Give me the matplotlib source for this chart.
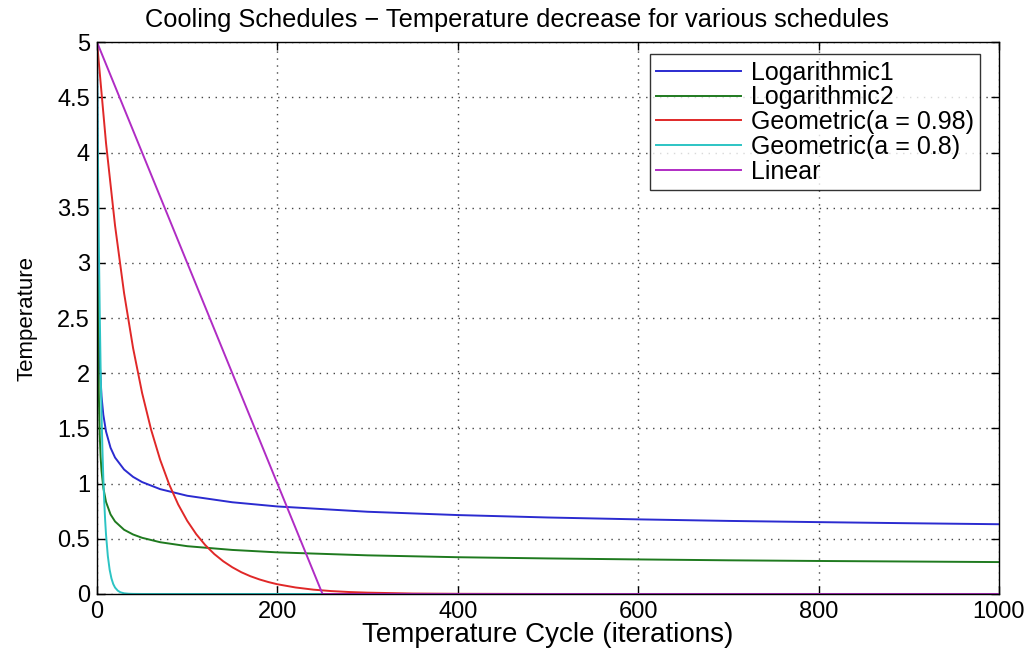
import matplotlib
matplotlib.use("Agg")
import matplotlib.pyplot as plt

# Temperature values per cooling schedule (iteration -> temperature)
log1_x = [0, 1, 2, 3, 5, 7, 10, 15, 20, 30, 40, 50, 70, 100, 150, 200, 300, 400, 500, 600, 700, 800, 900, 1000]
log1_y = [5.0, 2.953, 2.382, 2.095, 1.791, 1.624, 1.472, 1.325, 1.236, 1.128, 1.061, 1.014, 0.950, 0.890,
          0.831, 0.793, 0.745, 0.715, 0.693, 0.676, 0.662, 0.651, 0.641, 0.632]

log2_x = [1, 2, 3, 4, 5, 7, 10, 15, 20, 30, 40, 50, 70, 100, 150, 200, 300, 400, 500, 600, 700, 800, 900, 1000]
log2_y = [2.885, 1.820, 1.443, 1.243, 1.116, 0.962, 0.834, 0.721, 0.657, 0.582, 0.539, 0.509, 0.469, 0.433,
          0.399, 0.377, 0.350, 0.333, 0.322, 0.313, 0.305, 0.299, 0.294, 0.289]

geo98_x = [0, 10, 20, 30, 40, 50, 60, 70, 80, 90, 100, 110, 120, 130, 140, 150, 160, 170, 180, 190, 200,
           220, 240, 260, 280, 300, 350, 400, 500, 1000]
geo98_y = [5.0, 4.085, 3.338, 2.727, 2.228, 1.821, 1.488, 1.216, 0.993, 0.811, 0.663, 0.542, 0.443, 0.362,
           0.296, 0.242, 0.197, 0.161, 0.132, 0.108, 0.088, 0.059, 0.039, 0.026, 0.0175, 0.012, 0.004,
           0.0015, 0.0, 0.0]

geo80_x = [0, 1, 2, 3, 4, 5, 6, 7, 8, 9, 10, 12, 14, 16, 18, 20, 23, 26, 30, 35, 40, 50, 1000]
geo80_y = [5.0, 4.0, 3.2, 2.56, 2.048, 1.638, 1.311, 1.049, 0.839, 0.671, 0.537, 0.344, 0.220, 0.141,
           0.090, 0.058, 0.030, 0.015, 0.006, 0.002, 0.0007, 0.0, 0.0]

lin_x = [0, 250, 1000]
lin_y = [5.0, 0.0, 0.0]

series_labels = ["Logarithmic1", "Logarithmic2", "Geometric(a = 0.98)", "Geometric(a = 0.8)", "Linear"]
series_colors = ["#2b2bd0", "#1f7a1f", "#e02828", "#2cc4c4", "#b02cc4"]

x_ticks = [0, 200, 400, 600, 800, 1000]
y_ticks = [0, 0.5, 1, 1.5, 2, 2.5, 3, 3.5, 4, 4.5, 5]
y_tick_labels = ["0", "0.5", "1", "1.5", "2", "2.5", "3", "3.5", "4", "4.5", "5"]

plt.rcParams["font.family"] = ["Liberation Sans", "DejaVu Sans"]

fig = plt.figure(figsize=(10.32, 6.53), dpi=100)
ax = fig.add_axes([0.094, 0.0904, 0.874, 0.845])

data = [(log1_x, log1_y), (log2_x, log2_y), (geo98_x, geo98_y), (geo80_x, geo80_y), (lin_x, lin_y)]
for (xs, ys), lab, col in zip(data, series_labels, series_colors):
    ax.plot(xs, ys, color=col, lw=1.4, label=lab)

ax.set_xlim(0, 1000)
ax.set_ylim(0, 5)
ax.set_xticks(x_ticks)
ax.set_yticks(y_ticks)
ax.set_yticklabels(y_tick_labels)
ax.tick_params(direction="in", top=True, right=True, length=6, width=1, labelsize=17, pad=5, colors="black")
ax.grid(True, linestyle=(0, (1, 4)), color="#444444", linewidth=1.0)
for s in ax.spines.values():
    s.set_linewidth(1.0)
    s.set_color("black")

ax.set_xlabel("Temperature Cycle (iterations)", fontsize=20, labelpad=-1)
ax.set_ylabel("Temperature", fontsize=16, labelpad=14)
ax.set_title("Cooling Schedules \u2212 Temperature decrease for various schedules", fontsize=18.3, pad=11,
             x=0.466)

leg = ax.legend(loc="upper right", bbox_to_anchor=(0.979, 0.978), fontsize=18, frameon=True, fancybox=False,
                edgecolor="black", handlelength=3.4, handletextpad=0.4, labelspacing=0.03,
                borderpad=0.25, borderaxespad=0.0)
leg.get_frame().set_linewidth(1.0)

fig.savefig("out.png", dpi=100)
